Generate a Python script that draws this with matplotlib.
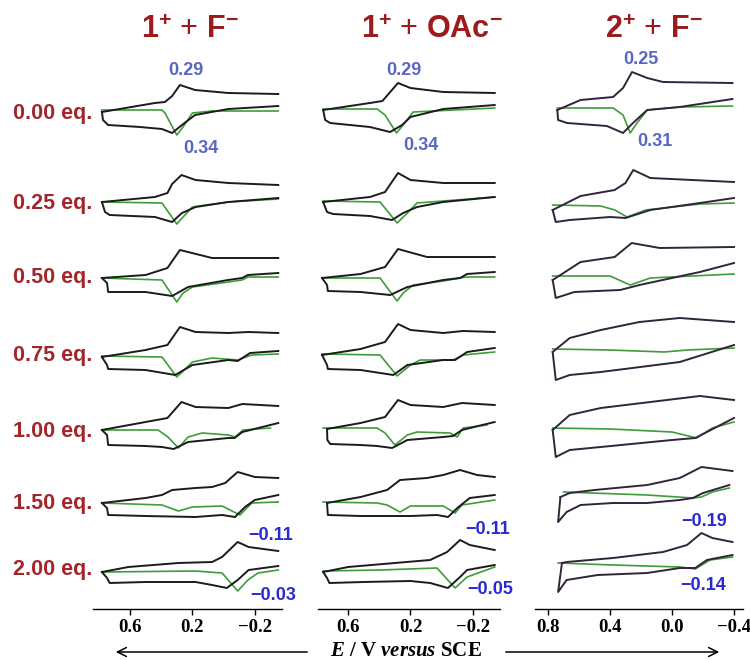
import matplotlib
matplotlib.use("Agg")
import matplotlib.pyplot as plt
import numpy as np

plt.rcParams['mathtext.fontset'] = 'custom'
plt.rcParams['mathtext.bf'] = 'Liberation Sans:bold'
plt.rcParams['mathtext.rm'] = 'Liberation Sans'
plt.rcParams['mathtext.it'] = 'Liberation Serif:italic:bold'

# ---------- data (E in V vs SCE, current in arbitrary units) ----------
eq_labels = ["0.00 eq.", "0.25 eq.", "0.50 eq.", "0.75 eq.", "1.00 eq.", "1.50 eq.", "2.00 eq."]
row_y = [114, 204, 278, 355, 432, 503, 570]   # vertical slot of each titration step

titles = [r"$\mathbf{1}^{\mathbf{+}}$ + $\mathbf{F}^{\mathbf{-}}$",
          r"$\mathbf{1}^{\mathbf{+}}$ + $\mathbf{OAc}^{\mathbf{-}}$",
          r"$\mathbf{2}^{\mathbf{+}}$ + $\mathbf{F}^{\mathbf{-}}$"]

# column 1: 1+ + F-
c1_top_E = [[0.78, 0.44, 0.376, 0.33, 0.28, 0.183, -0.03, -0.35],
            [0.78, 0.44, 0.36, 0.33, 0.27, 0.18, -0.03, -0.35],
            [0.78, 0.50, 0.36, 0.28, 0.074, -0.35],
            [0.78, 0.50, 0.36, 0.28, 0.18, -0.03, -0.16, -0.35],
            [0.78, 0.50, 0.36, 0.27, 0.18, -0.03, -0.12, -0.35],
            [0.78, 0.50, 0.395, 0.33, 0.18, 0.074, -0.01, -0.09, -0.20, -0.35],
            [0.78, 0.61, 0.29, 0.074, 0.01, -0.09, -0.16, -0.35]]
c1_top_i = [[2, 11, 12, 18, 29, 24, 21, 20],
            [2, 7, 11, 20, 29, 24, 21, 19],
            [0, 3, 10, 28, 20, 20],
            [-2, 5, 10, 28, 23, 22, 23, 22],
            [2, 10, 14, 30, 25, 24, 28, 26],
            [0, 5, 8, 13, 15, 16, 20, 31, 26, 25],
            [-2, 3, 7, 8, 13, 28, 23, 19]]
c1_bot_E = [[0.78, 0.773, 0.74, 0.536, 0.395, 0.33, 0.267, 0.183, -0.03, -0.35],
            [0.78, 0.76, 0.73, 0.44, 0.33, 0.267, 0.18, -0.03, -0.35],
            [0.78, 0.747, 0.74, 0.50, 0.33, 0.228, -0.028, -0.118, -0.156, -0.35],
            [0.78, 0.747, 0.74, 0.50, 0.31, 0.20, -0.03, -0.09, -0.17, -0.35],
            [0.78, 0.747, 0.74, 0.50, 0.395, 0.32, 0.228, -0.03, -0.07, -0.12, -0.35],
            [0.78, 0.747, 0.74, 0.50, 0.18, 0.01, -0.073, -0.137, -0.20, -0.35],
            [0.78, 0.747, 0.73, 0.50, 0.18, 0.074, -0.02, -0.09, -0.16, -0.35]]
c1_bot_i = [[2, -6, -11, -13, -15, -19, -11, -1, 5, 8],
            [2, -8, -11, -13, -18, -9, -3, 2, 6],
            [0, -5, -14, -14, -18, -9, -2, 0, 3, 5],
            [-2, -10, -14, -15, -20, -10, -5, -6, 2, 4],
            [2, -3, -13, -14, -15, -17, -10, -6, -6, 0, 9],
            [0, -5, -12, -13, -14, -12, -14, -4, 3, 8],
            [-2, -8, -13, -12, -12, -15, -18, -10, 0, 4]]
c1_grn_E = [[0.78, 0.395, 0.376, 0.30, 0.26, 0.20, 0.074, -0.35],
            [0.78, 0.395, 0.30, 0.26, 0.20, -0.03, -0.35],
            [0.78, 0.395, 0.30, 0.26, 0.20, -0.03, -0.118, -0.156, -0.35],
            [0.78, 0.395, 0.30, 0.20, 0.074, -0.09, -0.18, -0.35],
            [0.78, 0.42, 0.357, 0.29, 0.228, 0.138, -0.03, -0.073, -0.124, -0.30],
            [0.78, 0.395, 0.29, 0.20, 0.01, -0.105, -0.18, -0.35],
            [0.78, 0.18, 0.01, -0.09, -0.156, -0.22, -0.35]]
c1_grn_i = [[4, 4, 1, -21, -13, 1, 3, 3],
            [2, 1, -20, -13, -3, 2, 5],
            [0, -2, -24, -15, -9, -4, -2, 1, 1],
            [-1, -2, -22, -7, -3, -5, 0, 1],
            [2, 2, -5, -16, -5, -1, -3, -5, 2, 4],
            [0, -2, -8, -4, -3, -12, 0, 1],
            [-2, -1, -3, -21, -10, -3, 0]]

# column 2: 1+ + OAc-
c2_top_E = [[0.76, 0.46, 0.38, 0.28, 0.20, -0.01, -0.34],
            [0.76, 0.46, 0.363, 0.28, 0.20, -0.01, -0.34],
            [0.767, 0.52, 0.363, 0.28, 0.094, -0.34],
            [0.767, 0.52, 0.363, 0.28, 0.20, -0.01, -0.137, -0.34],
            [0.735, 0.52, 0.363, 0.28, 0.20, -0.01, -0.13, -0.34],
            [0.735, 0.52, 0.35, 0.267, 0.094, -0.01, -0.118, -0.227, -0.34],
            [0.76, 0.60, 0.30, 0.074, -0.035, -0.118, -0.18, -0.34]]
c2_top_i = [[4, 11, 13, 31, 26, 22, 21],
            [2, 7, 12, 31, 24, 21, 21],
            [0, 4, 11, 29, 21, 21],
            [0, 6, 13, 31, 25, 22, 24, 23],
            [3, 9, 15, 32, 27, 25, 29, 27],
            [0, 6, 13, 23, 25, 28, 33, 28, 26],
            [-2, 3, 7, 10, 18, 30, 25, 20]]
c2_bot_E = [[0.76, 0.747, 0.715, 0.46, 0.33, 0.254, 0.20, -0.01, -0.34],
            [0.76, 0.735, 0.696, 0.46, 0.318, 0.247, 0.158, -0.01, -0.34],
            [0.767, 0.735, 0.73, 0.52, 0.33, 0.22, -0.01, -0.118, -0.163, -0.34],
            [0.767, 0.735, 0.73, 0.52, 0.31, 0.22, -0.01, -0.086, -0.163, -0.34],
            [0.735, 0.733, 0.715, 0.52, 0.414, 0.318, 0.22, -0.01, -0.073, -0.13, -0.34],
            [0.735, 0.73, 0.52, 0.20, 0.03, -0.041, -0.10, -0.18, -0.34],
            [0.76, 0.735, 0.72, 0.50, 0.20, 0.074, -0.04, -0.118, -0.163, -0.34]]
c2_bot_i = [[4, -6, -9, -13, -18, -11, -3, 5, 9],
            [2, -8, -10, -12, -16, -9, -3, 2, 7],
            [0, -7, -13, -14, -17, -9, -2, 0, 4, 6],
            [0, -10, -14, -15, -20, -10, -5, -5, 3, 7],
            [3, -8, -12, -13, -14, -16, -8, -5, -4, 2, 10],
            [0, -12, -13, -13, -12, -14, -5, 5, 8],
            [-2, -8, -13, -12, -11, -13, -18, -7, 0, 5]]
c2_grn_E = [[0.76, 0.414, 0.363, 0.29, 0.247, 0.183, -0.34],
            [0.76, 0.395, 0.286, 0.22, 0.158, -0.01, -0.34],
            [0.767, 0.395, 0.286, 0.247, 0.183, -0.01, -0.118, -0.163, -0.34],
            [0.767, 0.395, 0.286, 0.20, 0.138, -0.073, -0.137, -0.34],
            [0.76, 0.414, 0.363, 0.30, 0.22, 0.158, -0.054, -0.10, -0.137, -0.29],
            [0.76, 0.414, 0.35, 0.267, 0.20, -0.01, -0.086, -0.13, -0.34],
            [0.76, 0.395, 0.03, -0.086, -0.163, -0.34]]
c2_grn_i = [[5, 5, -1, -19, -11, 2, 6],
            [3, 2, -19, -9, 1, 3, 7],
            [0, 0, -23, -15, -7, -3, 0, 1, 1],
            [1, 0, -21, -10, -5, -5, 0, 3],
            [4, 4, -1, -13, -3, 0, -1, -5, 4, 7],
            [1, 0, -2, -9, -3, -3, -10, -2, 3],
            [-1, 0, 2, -18, -7, 3]]

# column 3: 2+ + F-
c3_top_E = [[0.74, 0.59, 0.38, 0.316, 0.258, 0.16, 0.058, -0.39],
            [0.77, 0.59, 0.37, 0.30, 0.25, 0.14, -0.40],
            [0.77, 0.59, 0.37, 0.26, 0.08, -0.40],
            [0.77, 0.66, 0.46, 0.21, -0.05, -0.40],
            [0.77, 0.66, 0.46, 0.14, -0.18, -0.40],
            [0.72, 0.66, 0.50, 0.16, -0.05, -0.19, -0.39],
            [0.71, 0.68, 0.38, 0.058, -0.097, -0.19, -0.26, -0.39]]
c3_top_i = [[4, 14, 17, 26, 42, 36, 32, 31],
            [-6, 8, 14, 21, 34, 26, 22],
            [-2, 16, 21, 35, 30, 31],
            [3, 17, 25, 33, 37, 33],
            [2, 17, 24, 30, 36, 32],
            [6, 10, 13, 18, 25, 36, 32],
            [7, 8, 12, 18, 25, 37, 32, 28]]
c3_bot_E = [[0.74, 0.735, 0.677, 0.42, 0.316, 0.252, 0.16, -0.05, -0.39],
            [0.77, 0.75, 0.66, 0.40, 0.30, 0.14, -0.18, -0.40],
            [0.77, 0.75, 0.63, 0.335, 0.21, -0.18, -0.40],
            [0.77, 0.75, 0.66, 0.46, -0.05, -0.40],
            [0.77, 0.75, 0.66, 0.46, 0.0, -0.15, -0.40],
            [0.72, 0.735, 0.68, 0.59, 0.38, 0.16, -0.05, -0.135, -0.20, -0.37],
            [0.71, 0.735, 0.68, 0.48, 0.16, -0.05, -0.15, -0.225, -0.39]]
c3_bot_i = [[4, -6, -9, -12, -19, -9, 4, 7, 15],
            [-6, -18, -16, -13, -14, -6, 1, 6],
            [-2, -20, -14, -12, -7, 6, 15],
            [3, -25, -20, -17, -7, 10],
            [2, -25, -18, -15, -8, -6, 14],
            [6, -19, -9, -2, 0, 0, 3, 5, 10, 18],
            [7, -22, -10, -5, -3, 2, 2, 10, 15]]
c3_grn_E = [[0.74, 0.38, 0.316, 0.27, 0.226, 0.16, -0.05, -0.39],
            [0.77, 0.46, 0.37, 0.29, 0.17, -0.18, -0.40],
            [0.77, 0.40, 0.27, 0.14, -0.40],
            [0.77, 0.40, 0.05, -0.10, -0.40],
            [0.77, 0.40, 0.0, -0.16, -0.26, -0.40],
            [0.70, 0.16, -0.135, -0.19, -0.26, -0.37],
            [0.735, 0.38, -0.05, -0.15, -0.245, -0.39]]
c3_grn_i = [[6, 6, -1, -19, -9, 4, 7, 8],
            [-1, -2, -6, -13, -6, 0, 1],
            [2, 2, -7, 0, 4],
            [6, 5, 3, 5, 7],
            [4, 3, 0, -6, 4, 10],
            [11, 8, 5, 6, 11, 15],
            [7, 5, 3, 1, 10, 13]]

# peak potential labels: (text, E position, slot y)
c1_peaks = [("0.29", 0.241, 70), ("0.34", 0.145, 148), ("\u22120.11", -0.304, 535), ("\u22120.03", -0.317, 595)]
c2_peaks = [("0.29", 0.241, 70), ("0.34", 0.132, 146), ("\u22120.11", -0.297, 530), ("\u22120.05", -0.31, 590)]
c3_peaks = [("0.25", 0.20, 59), ("0.31", 0.11, 142), ("\u22120.19", -0.206, 522), ("\u22120.14", -0.20, 585)]

c1_ticks = [0.6, 0.2, -0.2]
c2_ticks = [0.6, 0.2, -0.2]
c3_ticks = [0.8, 0.4, 0.0, -0.4]

# ---------- figure ----------
W, H = 750, 660
fig = plt.figure(figsize=(W / 100, H / 100), dpi=100)

BASE = 609   # pixel row of the potential axis
TOP = 40

def add_col(left, right, xlim, top_E, top_i, bot_E, bot_i, grn_E, grn_i,
            ticks, peaks, black, title, title_x):
    ax = fig.add_axes([left / W, 1 - BASE / H, (right - left) / W, (BASE - TOP) / H])
    ax.set_xlim(*xlim)
    ax.set_ylim(0, BASE - TOP)
    for r in range(len(row_y)):
        off = BASE - row_y[r]
        ax.plot(grn_E[r], off + np.array(grn_i[r]), color="#3e9c3a", lw=1.2,
                solid_joinstyle="round")
        ax.plot(top_E[r], off + np.array(top_i[r]), color=black, lw=1.4,
                solid_joinstyle="round")
        ax.plot(bot_E[r], off + np.array(bot_i[r]), color=black, lw=1.4,
                solid_joinstyle="round")
    for k, (txt, e, yy) in enumerate(peaks):
        col = "#5a66c6" if k < 2 else "#2a2ad2"
        ax.text(e, BASE - yy, txt, ha="center", va="center", color=col,
                fontsize=13, fontweight="bold", family="Liberation Sans")
    for s in ["top", "left", "right"]:
        ax.spines[s].set_visible(False)
    ax.spines["bottom"].set_linewidth(1.0)
    ax.set_yticks([])
    ax.set_xticks(ticks)
    ax.set_xticklabels([f"{t:.1f}".replace("-", "\u2212") for t in ticks],
                       fontsize=13.5, fontweight="bold", family="Liberation Serif")
    ax.tick_params(axis="x", direction="out", length=4, width=1, pad=3)
    fig.text(title_x / W, 1 - 30 / H, title, ha="center", va="center",
             fontsize=22, color="#9c1b1f", family="Liberation Sans")
    return ax

add_col(93, 282, (0.837, -0.374), c1_top_E, c1_top_i, c1_bot_E, c1_bot_i,
        c1_grn_E, c1_grn_i, c1_ticks, c1_peaks, "#1b1b1b", titles[0], 190)
add_col(318, 500, (0.793, -0.374), c2_top_E, c2_top_i, c2_bot_E, c2_bot_i,
        c2_grn_E, c2_grn_i, c2_ticks, c2_peaks, "#1b1b1b", titles[1], 432)
add_col(535, 743, (0.884, -0.458), c3_top_E, c3_top_i, c3_bot_E, c3_bot_i,
        c3_grn_E, c3_grn_i, c3_ticks, c3_peaks, "#33233a", titles[2], 654)

# row labels
for lab, y in zip(eq_labels, row_y):
    fig.text(92 / W, 1 - y / H, lab, ha="right", va="center", fontsize=15.5,
             fontweight="bold", color="#a3262b", family="Liberation Sans")

# potential axis label with arrows
fig.text(406 / W, 1 - 651 / H, r"$E$ / V $versus$ SCE", ha="center", va="center",
         fontsize=15, fontweight="bold", family="Liberation Serif")
fig.add_artist(matplotlib.patches.FancyArrowPatch(
    (310 / W, 1 - 652 / H), (113 / W, 1 - 652 / H), transform=fig.transFigure,
    arrowstyle="->", mutation_scale=16, lw=1.1, color="black"))
fig.add_artist(matplotlib.patches.FancyArrowPatch(
    (503 / W, 1 - 652 / H), (722 / W, 1 - 652 / H), transform=fig.transFigure,
    arrowstyle="->", mutation_scale=16, lw=1.1, color="black"))

fig.savefig("out.png", dpi=100)
